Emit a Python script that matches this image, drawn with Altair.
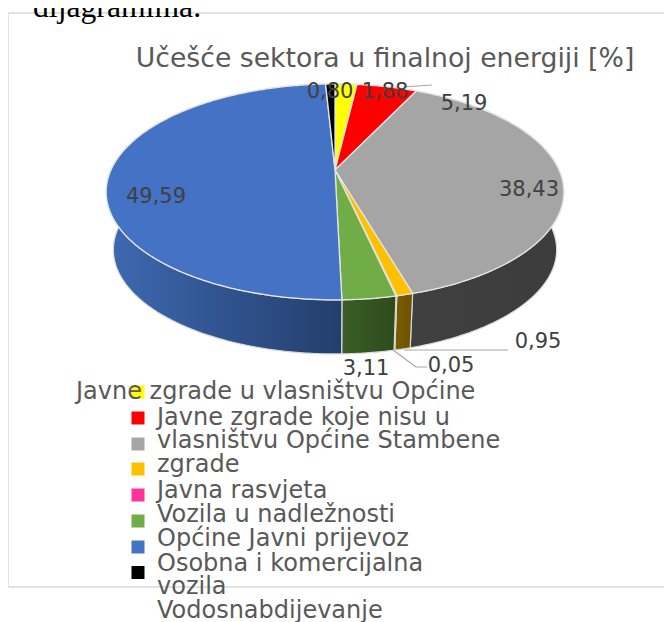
import math
import altair as alt
import pandas as pd

# ---- data ----
sectors = ["Javne zgrade u vlasništvu Općine", "Javne zgrade koje nisu u vlasništvu Općine",
           "Stambene zgrade", "Javna rasvjeta", "Vozila u nadležnosti Općine",
           "Javni prijevoz", "Osobna i komercijalna vozila", "Vodosnabdijevanje"]
values = [1.88, 5.19, 38.43, 0.95, 0.05, 3.11, 49.59, 0.80]
top_colors = ["#FFFF00", "#FF0000", "#A5A5A5", "#FFC000", "#FF3399", "#70AD47", "#4472C4", "#000000"]
side_dark = ["#7F7F00", "#7F0000", "#404040", "#7A5C00", "#7F194C", "#3A5E26", "#3E69B2", "#000000"]
side_end = ["#7F7F00", "#7F0000", "#3C3C3C", "#6E5200", "#7F194C", "#2E4A1C", "#233E6C", "#000000"]
title_text = "Učešće sektora u finalnoj energiji [%]"
cut_text = "dijagramima."
label_texts = ["1,88", "5,19", "38,43", "0,95", "0,05", "3,11", "49,59", "0,80"]
label_x = [385, 464, 529, 538, 451, 366, 156, 330]
label_y = [92, 104, 190, 342, 366, 369, 197, 92]
legend_lines = ["Javne zgrade u vlasništvu Općine", "Javne zgrade koje nisu u",
                "vlasništvu Općine Stambene", "zgrade", "Javna rasvjeta", "Vozila u nadležnosti",
                "Općine Javni prijevoz", "Osobna i komercijalna", "vozila", "Vodosnabdijevanje"]
legend_line_x = [76, 157, 157, 157, 157, 157, 157, 157, 157, 157]
legend_line_y = [399, 425, 448, 472, 498, 522, 546, 571, 594, 618]
legend_square_y = [392, 418, 444, 469, 495, 521, 547, 572.5]

X = alt.X("x:Q", axis=None, scale=alt.Scale(domain=[8, 664]))
Y = alt.Y("y:Q", axis=None, scale=alt.Scale(domain=[622, 8]))

K = 0.203


def proj(a, R, S, y0):
    u, v = math.sin(a), math.cos(a)
    w = 1 + K * v
    return 335 + R * u / w, y0 - S * v / w


def arc(a0, a1, R, S, y0):
    n = max(2, int(abs(a1 - a0) * 90))
    return [proj(a0 + (a1 - a0) * i / n, R, S, y0) for i in range(n + 1)]


layers = []


def poly(points, fill, stroke, sw):
    df = pd.DataFrame(points, columns=["x", "y"])
    df["i"] = range(len(df))
    return alt.Chart(df).mark_line(fill=fill, stroke=stroke, strokeWidth=sw, strokeJoin="round",
                                   clip=False).encode(x=X, y=Y, order="i:Q")


def seg(pts, color="#A6A6A6", sw=1.2):
    df = pd.DataFrame(pts, columns=["x", "y"])
    df["i"] = range(len(df))
    return alt.Chart(df).mark_line(stroke=color, strokeWidth=sw).encode(x=X, y=Y, order="i:Q")


# frame
layers.append(seg([(8, 13), (664, 13)], "#D9D9D9", 1.5))
layers.append(seg([(8, 13), (8, 587), (664, 587)], "#D9D9D9", 1.5))

# slice angles
angles = [0.0]
for v in values:
    angles.append(angles[-1] + v / sum(values) * 2 * math.pi)

# walls, then tops
for i in range(len(values)):
    a0, a1 = angles[i], angles[i + 1]
    top = arc(a0, a1, 224, 103.5, 170)
    bottom = arc(a1, a0, 217, 100, 228.5)
    grad = alt.LinearGradient(gradient="linear", x1=0, x2=1, y1=0, y2=0,
                              stops=[alt.GradientStop(offset=0, color=side_dark[i]),
                                     alt.GradientStop(offset=1, color=side_end[i])])
    layers.append(poly(top + bottom + top[:1], grad, "#D9D9D9", 1.2))
for i in range(len(values)):
    a0, a1 = angles[i], angles[i + 1]
    pts = [(335, 170)] + arc(a0, a1, 224, 103.5, 170) + [(335, 170)]
    layers.append(poly(pts, top_colors[i], "#E4E4E4", 1.3))

# leader lines
layers.append(seg([(403, 87), (432, 85)]))
layers.append(seg([(404, 350), (508, 350)]))
layers.append(seg([(393, 350), (416, 367), (427, 367)]))

# data labels
lab = pd.DataFrame({"x": label_x, "y": label_y, "t": label_texts})
layers.append(alt.Chart(lab).mark_text(font="DejaVu Sans", fontSize=21, color="#404040",
                                       baseline="middle", align="center").encode(x=X, y=Y, text="t:N"))

# title and the clipped line above the chart
layers.append(alt.Chart(pd.DataFrame({"x": [385], "y": [67], "t": [title_text]})).mark_text(
    font="DejaVu Sans", fontSize=26.7, color="#595959", baseline="alphabetic", align="center"
).encode(x=X, y=Y, text="t:N"))
layers.append(alt.Chart(pd.DataFrame({"x": [33], "y": [17], "t": [cut_text]})).mark_text(
    font="Liberation Serif", fontSize=31.7, color="#000000", baseline="alphabetic", align="left"
).encode(x=X, y=Y, text="t:N"))

# legend
sq = pd.DataFrame({"x": [138] * len(sectors), "y": legend_square_y, "s": sectors})
layers.append(alt.Chart(sq).mark_square(size=169, opacity=1).encode(
    x=X, y=Y,
    color=alt.Color("s:N", legend=None, scale=alt.Scale(domain=sectors, range=top_colors))))
leg = pd.DataFrame({"x": legend_line_x, "y": legend_line_y, "t": legend_lines})
layers.append(alt.Chart(leg).mark_text(font="DejaVu Sans", fontSize=24, color="#595959",
                                       baseline="alphabetic", align="left").encode(x=X, y=Y, text="t:N"))

chart = alt.layer(*layers).properties(
    width=656, height=614, padding=0, autosize=alt.AutoSizeParams(type="none"),
    background="#FFFFFF"
).configure_view(stroke=None)

chart.save("out.html", embed_options={"renderer": "svg", "actions": False})
